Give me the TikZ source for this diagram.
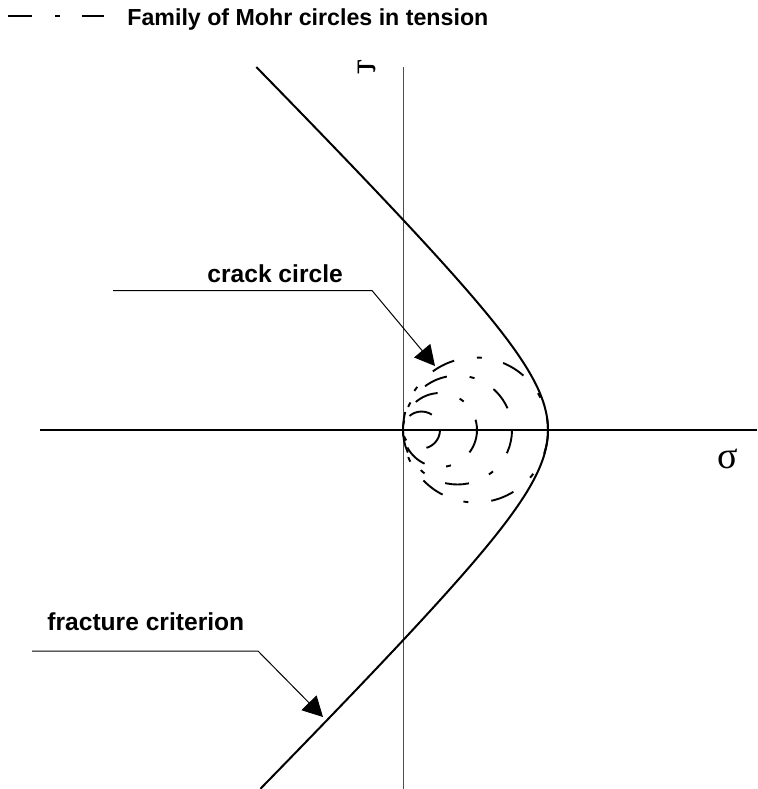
\documentclass[tikz,border=0pt]{standalone}
\usepackage{fontspec}
\setmainfont{Liberation Sans}
\newfontfamily\greekfont{Liberation Serif}
\usetikzlibrary{arrows.meta}

\begin{document}
\begin{tikzpicture}[x=0.5pt,y=-0.5pt,
  mohr/.style={line width=0.95pt,dash pattern=on 12pt off 11.5pt on 2.5pt off 11pt},
  leader/.style={line width=0.5pt,-{Triangle[length=10pt,width=10.5pt]}},
  lbl/.style={font=\fontsize{12.3}{14}\selectfont\bfseries,inner sep=0pt,anchor=base west},
  greek/.style={font=\greekfont\fontsize{19}{20}\selectfont,inner sep=0pt}]
\useasboundingbox (0,0) rectangle (757,789);
\draw[mohr] (8,16)--(104,16);
\node[lbl,font=\fontsize{11.6}{14}\selectfont\bfseries] (legend) at (127,25) {Family of Mohr circles in tension};
\draw[line width=0.75pt] (40,430)--(757,430);
\draw[gray!60!black,line width=0.5pt] (403,67)--(403,789);
\node[greek] (sigma) at (728,459) {σ};
\node[greek] (tau) at (367,67) {\rotatebox{90}{\scalebox{-1}[1]{τ}}};
\draw[line width=1pt,domain=-2.206:2.2175,samples=120,smooth] plot ({628-80*cosh(\x)},{430-80*sinh(\x)});
\foreach \r in {18.5,37,54.5,72.5} \draw[mohr] ({403+\r},430) circle[radius=\r];
\node[lbl] (crack) at (207,282) {crack circle};
\coordinate (crackA) at (113,290.5);
\coordinate (crackB) at (372,290.5);
\coordinate (crackT) at (435,366);
\draw[leader] (crackA)--(crackB)--(crackT);
\node[lbl] (fracture) at (47,630) {fracture criterion};
\coordinate (fracA) at (32,651);
\coordinate (fracB) at (258,651);
\coordinate (fracT) at (323,717);
\draw[leader] (fracA)--(fracB)--(fracT);
\end{tikzpicture}
\end{document}
